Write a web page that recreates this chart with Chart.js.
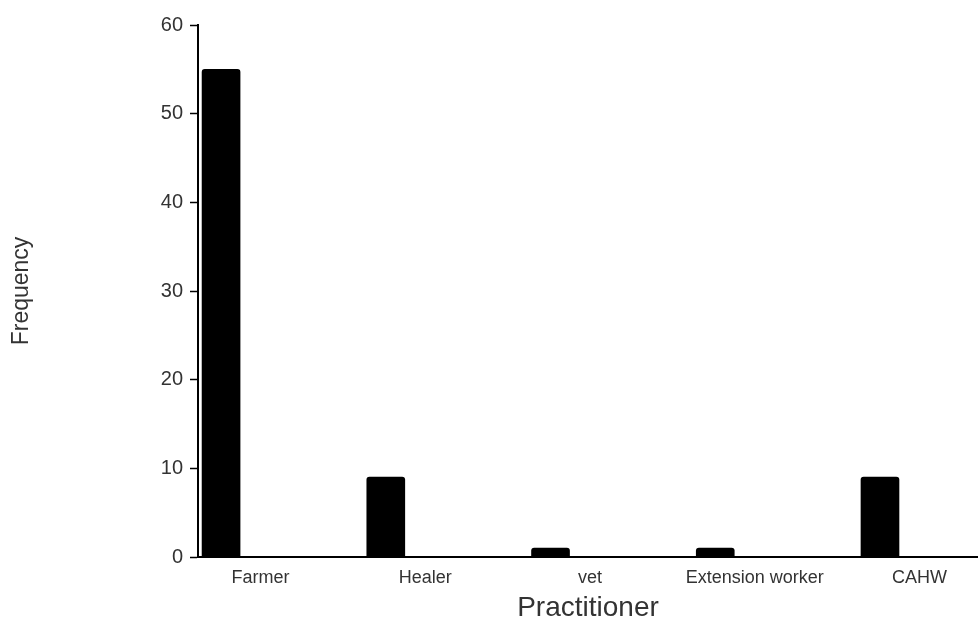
<!DOCTYPE html>
<html>
<head>
<meta charset="utf-8">
<title>Practitioner frequency</title>
<script src="https://cdn.jsdelivr.net/npm/chart.js@4.4.1/dist/chart.umd.min.js"></script>
<style>
    html, body { margin: 0; padding: 0; background: #ffffff; overflow: hidden; }
    #wrap { position: relative; width: 978px; height: 621px; }
</style>
</head>
<body>
<div id="wrap"><canvas id="chart1"></canvas></div>
<script>
/*
    1. Gather the data
*/
const categories = ['Farmer', 'Healer', 'vet', 'Extension worker', 'CAHW'];
const frequency = [55, 9, 1, 1, 9];
const yTicks = [0, 10, 20, 30, 40, 50, 60];

// bars sit at 0..4 on a linear x axis, the labels are drawn a bit right of each bar
const labelShift = 0.24;

const textColor = '#333333';
const fontFamily = 'Arial, "Liberation Sans", sans-serif';

// This setup block goes to the 'data' key of the config below.
const setup = {
    datasets: [{
        label: 'Frequency',
        data: categories.map((c, i) => ({ x: i, y: frequency[i] })),
        backgroundColor: '#000000',
        borderWidth: 0,
        borderRadius: { topLeft: 3, topRight: 3, bottomLeft: 0, bottomRight: 0 },
        borderSkipped: 'bottom',
        barThickness: 38
    }]
};

const config = {
    type: 'bar',
    data: setup,
    options: {
        responsive: true,
        maintainAspectRatio: false,
        animation: false,
        layout: { padding: { top: 25, right: 0, left: 0, bottom: 0 } },
        plugins: {
            legend: { display: false },
            tooltip: { enabled: false }
        },
        scales: {
            x: {
                type: 'linear',
                min: -0.14,
                max: 4.595,
                offset: false,
                grid: { display: false, drawTicks: false },
                border: { display: true, color: '#000000', width: 2 },
                afterBuildTicks: scale => {
                    scale.ticks = categories.map((c, i) => ({ value: i + labelShift }));
                },
                afterFit: scale => { scale.height = 64; },
                ticks: {
                    autoSkip: false,
                    maxRotation: 0,
                    padding: 10,
                    color: textColor,
                    font: { family: fontFamily, size: 18 },
                    callback: (value, index) => categories[index]
                },
                title: {
                    display: true,
                    text: 'Practitioner',
                    color: textColor,
                    padding: { top: 0, bottom: 0 },
                    font: { family: fontFamily, size: 28, lineHeight: 0.9 }
                }
            },
            y: {
                min: 0,
                max: 60,
                afterBuildTicks: scale => {
                    scale.ticks = yTicks.map(v => ({ value: v }));
                },
                afterFit: scale => { scale.width = 198; },
                grid: {
                    drawOnChartArea: false,
                    drawTicks: true,
                    tickLength: 8,
                    tickWidth: 1.5,
                    tickColor: '#000000'
                },
                border: { display: true, color: '#000000', width: 2 },
                ticks: {
                    padding: 7,
                    color: textColor,
                    font: { family: fontFamily, size: 20 }
                },
                title: {
                    display: true,
                    text: 'Frequency',
                    color: textColor,
                    padding: { top: 8, bottom: 0 },
                    font: { family: fontFamily, size: 23 }
                }
            }
        }
    }
};

const context = document.getElementById('chart1').getContext('2d');
const chart1 = new Chart(context, config);
</script>
</body>
</html>
